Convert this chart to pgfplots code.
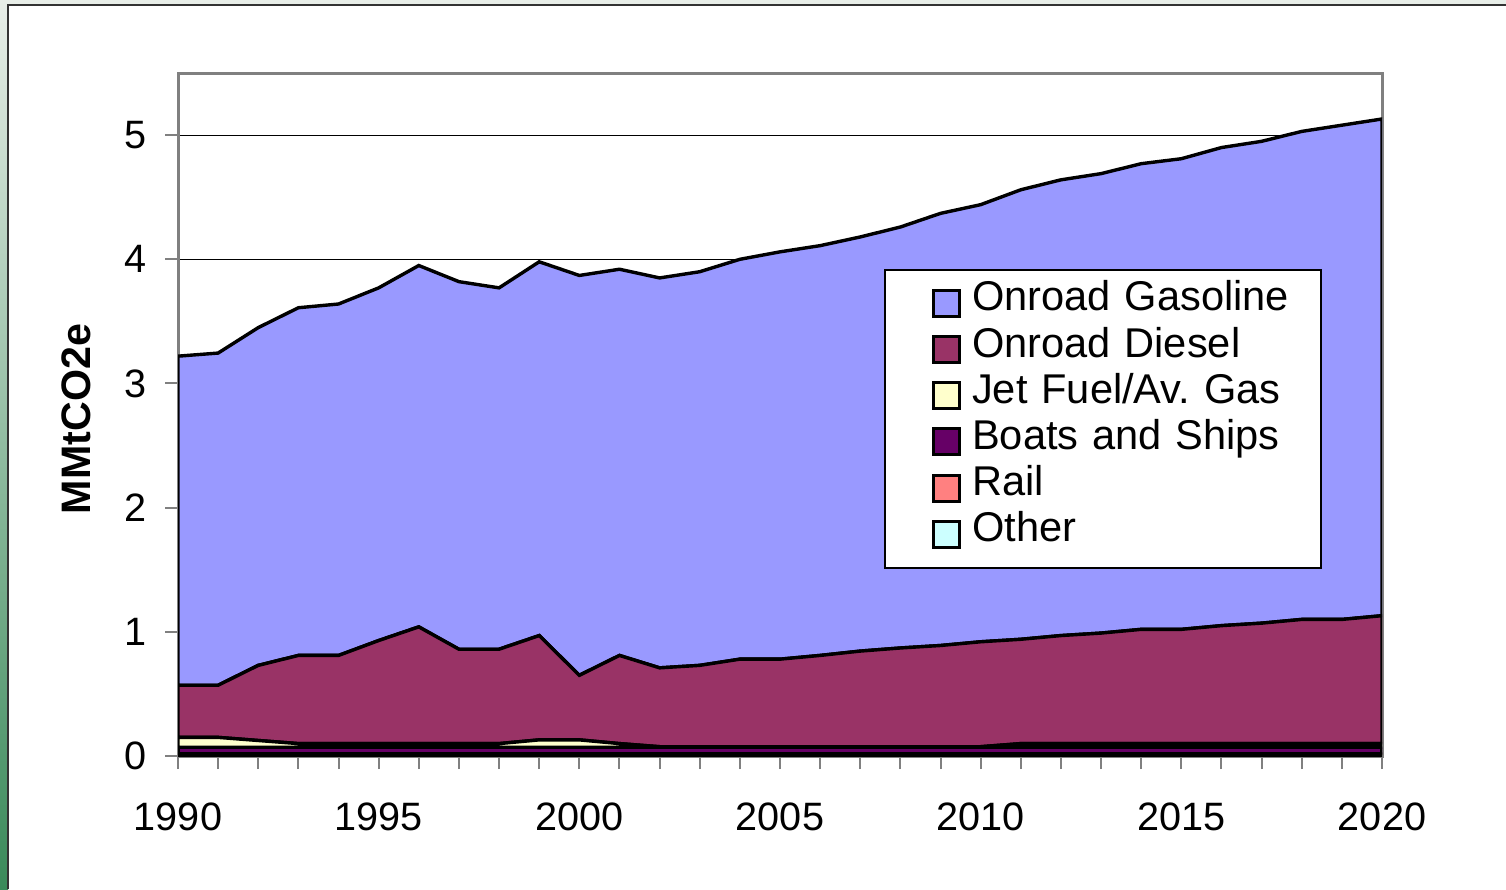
\documentclass[border=0pt]{standalone}
\usepackage{fontspec}
\setmainfont{Liberation Sans}
\usepackage{pgfplots}
\usepackage{pgfplotstable}
\pgfplotsset{compat=1.18}

\definecolor{gasoline}{HTML}{9999FF}
\definecolor{diesel}{HTML}{993366}
\definecolor{jetfuel}{HTML}{FFFFCC}
\definecolor{boats}{HTML}{660066}
\definecolor{rail}{HTML}{FF8080}
\definecolor{other}{HTML}{CCFFFF}
\definecolor{axisgray}{HTML}{808080}
\definecolor{bgtop}{HTML}{E8EEE8}
\definecolor{bgmid}{HTML}{A8C8AE}
\definecolor{bgbottom}{HTML}{3A8A5A}
\definecolor{framegray}{HTML}{333333}

% MMtCO2e by source, each column is one layer (stacked bottom to top)
\pgfplotstableread{
year other rail boats jet diesel gasoline
1990 0.01 0.01 0.05 0.080 0.420 2.650
1991 0.01 0.01 0.05 0.080 0.420 2.675
1992 0.01 0.01 0.05 0.055 0.605 2.720
1993 0.01 0.01 0.05 0.030 0.710 2.800
1994 0.01 0.01 0.05 0.030 0.710 2.830
1995 0.01 0.01 0.05 0.030 0.830 2.840
1996 0.01 0.01 0.05 0.030 0.940 2.910
1997 0.01 0.01 0.05 0.030 0.760 2.960
1998 0.01 0.01 0.05 0.030 0.760 2.910
1999 0.01 0.01 0.05 0.060 0.840 3.010
2000 0.01 0.01 0.05 0.060 0.520 3.220
2001 0.01 0.01 0.05 0.030 0.710 3.110
2002 0.01 0.01 0.05 0.005 0.635 3.140
2003 0.01 0.01 0.05 0.005 0.655 3.170
2004 0.01 0.01 0.05 0.005 0.705 3.220
2005 0.01 0.01 0.05 0.005 0.705 3.280
2006 0.01 0.01 0.05 0.005 0.735 3.300
2007 0.01 0.01 0.05 0.005 0.770 3.335
2008 0.01 0.01 0.05 0.005 0.795 3.390
2009 0.01 0.01 0.05 0.005 0.815 3.480
2010 0.01 0.01 0.05 0.005 0.845 3.520
2011 0.01 0.01 0.05 0.030 0.840 3.620
2012 0.01 0.01 0.05 0.030 0.870 3.670
2013 0.01 0.01 0.05 0.030 0.890 3.700
2014 0.01 0.01 0.05 0.030 0.920 3.750
2015 0.01 0.01 0.05 0.030 0.920 3.790
2016 0.01 0.01 0.05 0.030 0.950 3.850
2017 0.01 0.01 0.05 0.030 0.970 3.880
2018 0.01 0.01 0.05 0.030 1.000 3.930
2019 0.01 0.01 0.05 0.030 1.000 3.980
2020 0.01 0.01 0.05 0.030 1.030 4.000
}\transport

\begin{document}
\begin{tikzpicture}
% page and slide-like frame (1px = 0.25pt)
\useasboundingbox (0,0) rectangle (376.5pt,-222.25pt);
\fill[white] (0,0) rectangle (376.5pt,-222.25pt);
\fill[bgtop] (0,0) rectangle (376.5pt,-1.25pt);
\shade[top color=bgtop, middle color=bgmid, bottom color=bgbottom] (0,0) rectangle (2pt,-222.25pt);
\draw[framegray, line width=0.5pt] (2.1pt,-222.25pt) -- (2.1pt,-1.35pt) -- (376.5pt,-1.35pt);

\begin{axis}[
    at={(44.5pt,-189pt)}, anchor=south west,
    width=301pt, height=170.75pt, scale only axis,
    xmin=1990, xmax=2020, ymin=0, ymax=5.5,
    xtick={1990,1995,...,2020}, minor x tick num=4,
    ytick={0,1,2,3,4,5},
    /pgf/number format/1000 sep={},
    /pgf/number format/assume math mode=true,
    tick label style={font=\fontsize{9.9}{11}\selectfont},
    xticklabel style={yshift=-4.8pt},
    yticklabel style={xshift=-1.2pt},
    tick align=outside, xtick pos=bottom, ytick pos=left,
    major tick length=3.25pt, minor tick length=3.25pt,
    tick style={axisgray, line width=0.5pt},
    axis line style={axisgray, line width=0.75pt},
    ymajorgrids, grid style={black, line width=0.3pt},
    ylabel={MMtCO2e},
    ylabel style={at={(axis description cs:-0.0847,0.4934)}, anchor=center,
        font=\bfseries\fontsize{10.3}{12}\selectfont},
    stack plots=y,
    every axis plot/.append style={draw=black, line width=0.85pt},
    reverse legend,
    legend image code/.code={
        \path[draw=none, fill=none] (0pt,0pt) -- (18.7pt,0pt);
        \draw[#1, draw=black, line width=0.75pt] (12.2pt,-3.25pt) rectangle (18.7pt,3.25pt);
    },
    legend style={
        at={(0.5864,0.713)}, anchor=north west,
        draw=black, line width=0.4pt, fill=white,
        inner xsep=0pt, inner ysep=2.6pt,
        font=\fontsize{10.4}{12}\selectfont,
        cells={anchor=west},
        nodes={inner sep=0pt, text height=7.65pt, text depth=3.9pt},
        row sep=0pt,
        /tikz/every odd column/.append style={column sep=2.75pt},
        /tikz/every even column/.append style={text width=87.25pt},
    },
]
\addplot[fill=other] table[x=year, y=other] {\transport} \closedcycle;
\addlegendentry{Other}
\addplot[fill=rail] table[x=year, y=rail] {\transport} \closedcycle;
\addlegendentry{Rail}
\addplot[fill=boats] table[x=year, y=boats] {\transport} \closedcycle;
\addlegendentry{Boats and Ships}
\addplot[fill=jetfuel] table[x=year, y=jet] {\transport} \closedcycle;
\addlegendentry{Jet Fuel/Av.\ Gas}
\addplot[fill=diesel] table[x=year, y=diesel] {\transport} \closedcycle;
\addlegendentry{Onroad Diesel}
\addplot[fill=gasoline] table[x=year, y=gasoline] {\transport} \closedcycle;
\addlegendentry{Onroad Gasoline}
\end{axis}
\end{tikzpicture}
\end{document}
